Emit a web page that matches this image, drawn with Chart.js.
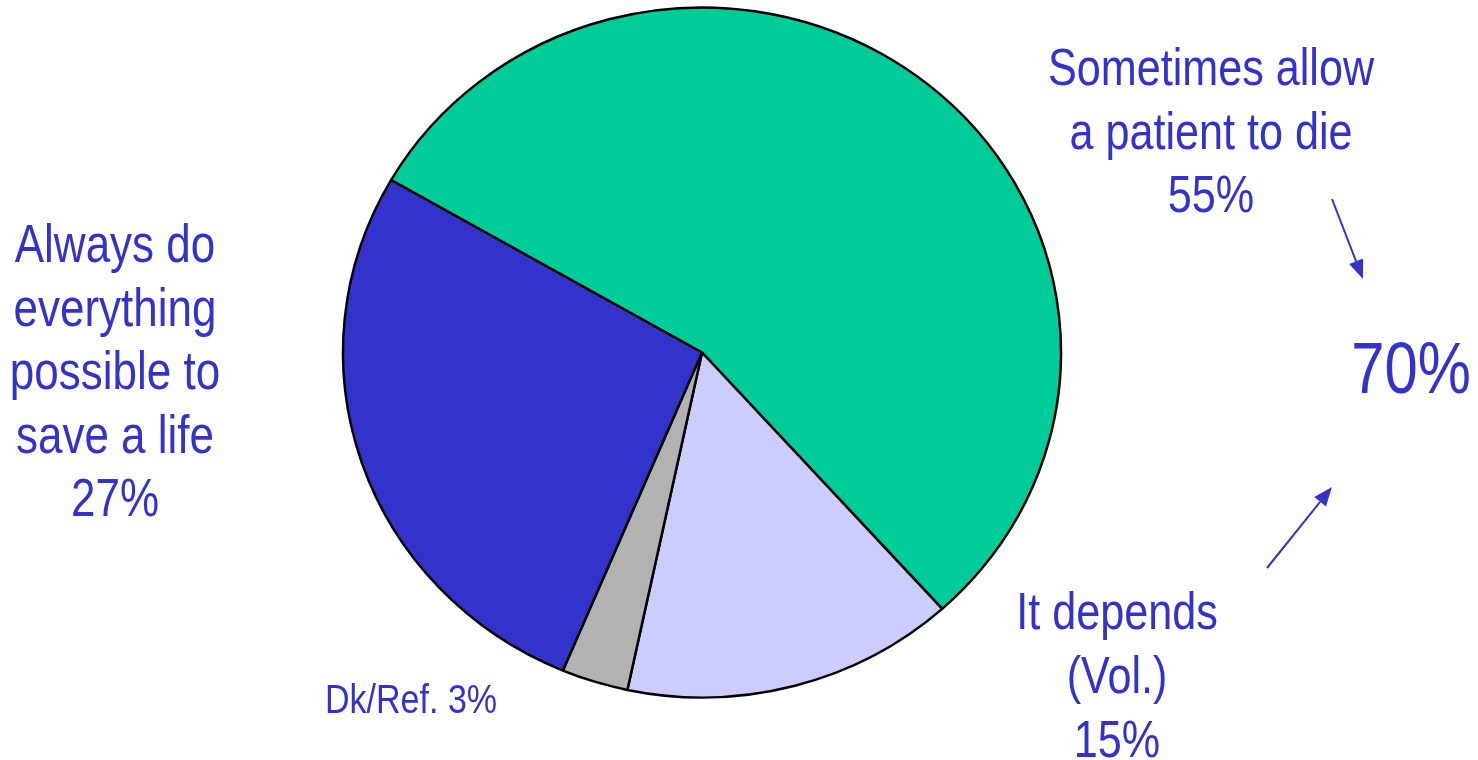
<!DOCTYPE html>
<html lang="en">
<head>
    <meta charset="UTF-8">
    <title>Save a life or allow to die</title>
    <style>
        body {
            margin: 0;
            padding: 0;
            background-color: #ffffff;
        }

        .chart-container {
            width: 1478px;
            height: 760px;
        }
    </style>
</head>
<body>
    <div class="chart-container">
        <canvas id="pieChart"></canvas>
    </div>

    <script src="https://cdn.jsdelivr.net/npm/chart.js"></script>
    <script>
        const categories = ['Sometimes allow a patient to die', 'It depends (Vol.)', 'Dk/Ref.', 'Always do everything possible to save a life'];
        const shares = [55, 15, 3, 27];
        const sliceColors = ['#00cc99', '#ccccff', '#b2b2b2', '#3333cc'];
        // the two answers that add up to the big number on the right
        const combinedParts = [0, 1];

        // label text split into lines, the percentage goes on the last line
        const labelLines = [
            ['Sometimes allow', 'a patient to die'],
            ['It depends', '(Vol.)'],
            ['Dk/Ref.'],
            ['Always do', 'everything', 'possible to', 'save a life']
        ];

        const textColor = '#3333cc';
        const fontFamily = "'Liberation Sans', Arial, sans-serif";
        // no narrow face installed, so squeeze the regular one
        const narrow = 0.83;

        // the pie is drawn slightly flattened
        const squash = 345 / 359;

        const flattenPie = {
            id: 'flattenPie',
            beforeDatasetsDraw(chart) {
                const ctx = chart.ctx;
                const area = chart.chartArea;
                const cy = (area.top + area.bottom) / 2;
                ctx.save();
                ctx.translate(0, cy);
                ctx.scale(1, squash);
                ctx.translate(0, -cy);
            },
            afterDatasetsDraw(chart) {
                chart.ctx.restore();
            }
        };

        function drawArrow(ctx, x1, y1, x2, y2) {
            const ang = Math.atan2(y2 - y1, x2 - x1);
            const len = 19, half = 7.5;
            const bx = x2 - len * Math.cos(ang), by = y2 - len * Math.sin(ang);
            ctx.beginPath();
            ctx.moveTo(x1, y1);
            ctx.lineTo(bx, by);
            ctx.stroke();
            ctx.beginPath();
            ctx.moveTo(x2, y2);
            ctx.lineTo(bx + half * Math.sin(ang), by - half * Math.cos(ang));
            ctx.lineTo(bx - half * Math.sin(ang), by + half * Math.cos(ang));
            ctx.closePath();
            ctx.fill();
        }

        function narrowText(ctx, t, x, y) {
            ctx.save();
            ctx.translate(x, y);
            ctx.scale(narrow, 1);
            ctx.fillText(t, 0, 0);
            ctx.restore();
        }

        const outsideLabels = {
            id: 'outsideLabels',
            afterDraw(chart) {
                const ctx = chart.ctx;
                ctx.save();
                ctx.fillStyle = textColor;
                ctx.strokeStyle = textColor;
                ctx.textBaseline = 'alphabetic';

                function block(i, x, y, size, lh) {
                    ctx.font = size + 'px ' + fontFamily;
                    ctx.textAlign = 'center';
                    const lines = labelLines[i].concat([shares[i] + '%']);
                    lines.forEach((t, k) => narrowText(ctx, t, x, y + k * lh));
                }

                block(0, 1211, 85, 52, 63.5);
                block(1, 1117, 629, 52, 64);
                block(3, 115, 262, 53, 63.5);

                ctx.font = '41px ' + fontFamily;
                ctx.textAlign = 'left';
                narrowText(ctx, labelLines[2][0] + ' ' + shares[2] + '%', 325, 713);

                const total = combinedParts.reduce((s, i) => s + shares[i], 0);
                ctx.font = '72px ' + fontFamily;
                ctx.textAlign = 'center';
                narrowText(ctx, total + '%', 1411, 393);

                ctx.lineWidth = 2;
                drawArrow(ctx, 1332, 199, 1363, 279);
                drawArrow(ctx, 1267, 568, 1332, 487);
                ctx.restore();
            }
        };

        const pieCtx = document.getElementById('pieChart').getContext('2d');

        new Chart(pieCtx, {
            type: 'pie',
            data: {
                labels: categories,
                datasets: [{
                    data: shares,
                    backgroundColor: sliceColors,
                    borderColor: '#000000',
                    borderWidth: 2.5,
                    borderAlign: 'center',
                    clip: false
                }]
            },
            options: {
                responsive: true,
                maintainAspectRatio: false,
                animation: false,
                rotation: -60,
                radius: 359,
                layout: {
                    padding: { left: 343, right: 417, top: 0, bottom: 55 }
                },
                plugins: {
                    legend: { display: false },
                    tooltip: { enabled: false }
                }
            },
            plugins: [flattenPie, outsideLabels]
        });
    </script>
</body>
</html>
